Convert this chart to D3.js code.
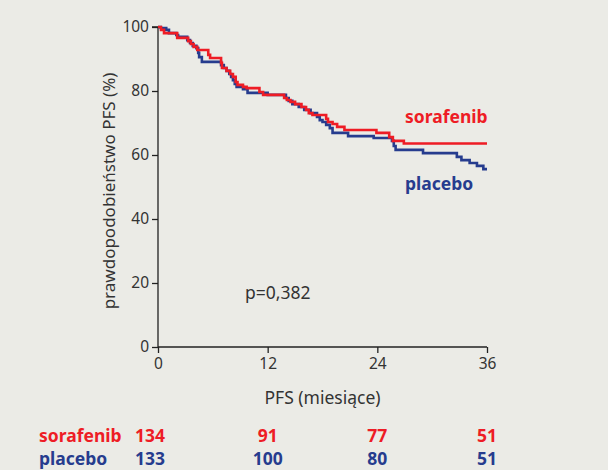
<!DOCTYPE html>
<html>
<head>
<meta charset="utf-8">
<script src="https://cdn.jsdelivr.net/npm/d3@7"></script>
<style>
  html, body { margin: 0; padding: 0; background: #ebebe6; }
  svg { display: block; font-family: "Noto Sans", "Open Sans", sans-serif; }
</style>
</head>
<body>
<svg id="chart" width="608" height="470"></svg>
<script>
// Kaplan-Meier PFS steps: [month, % progression-free]
const sorafenibSteps = [
  [0, 100], [0.33, 99.1], [0.66, 98.1], [2.1, 96.6], [3.3, 95.6], [3.6, 94.7],
  [3.9, 93.8], [4.3, 92.8], [5.5, 91.3], [5.7, 90.3], [6.9, 88.8], [7.0, 87.2],
  [7.5, 86.3], [7.9, 85.3], [8.2, 84.4], [8.5, 82.8], [8.7, 81.9], [9.3, 81.3],
  [9.7, 80.9], [11.1, 79.7], [11.5, 78.8], [13.8, 77.8], [14.1, 77.2], [14.5, 76.6],
  [15.0, 75.9], [15.7, 75.0], [16.2, 74.1], [16.5, 73.1], [16.9, 72.5], [18.4, 71.3],
  [18.6, 70.3], [19.1, 69.7], [19.6, 68.8], [20.4, 67.8], [23.9, 66.9], [25.3, 65.6],
  [25.7, 64.4], [26.9, 63.6], [36, 63.6]
];
const placeboSteps = [
  [0, 100], [0.3, 99.7], [0.9, 99.1], [1.2, 98.1], [2.0, 97.5], [2.2, 96.9],
  [3.2, 95.9], [3.5, 95.0], [3.8, 94.1], [4.2, 93.4], [4.4, 91.9], [4.5, 90.6],
  [4.8, 89.1], [6.9, 88.1], [7.2, 87.2], [7.5, 86.3], [7.8, 85.3], [8.0, 84.4],
  [8.2, 83.4], [8.4, 82.2], [8.6, 81.3], [9.3, 80.6], [9.8, 79.4], [12.0, 78.8],
  [14.0, 77.8], [14.3, 76.9], [14.7, 75.9], [15.4, 75.0], [16.0, 74.1], [16.7, 73.1],
  [17.4, 71.9], [17.7, 70.9], [18.0, 70.3], [18.4, 69.4], [18.8, 68.4], [19.1, 66.9],
  [20.8, 65.9], [23.6, 65.3], [25.6, 64.4], [25.8, 62.8], [26.0, 61.6], [29.0, 60.6],
  [32.7, 59.4], [33.2, 58.4], [34.1, 57.5], [34.9, 56.6], [35.6, 55.6], [36, 55.6]
];
const xTicks = [0, 12, 24, 36];
const yTicks = [0, 20, 40, 60, 80, 100];
const riskGroups = ["sorafenib", "placebo"];
const atRisk = {
  sorafenib: [134, 91, 77, 51],
  placebo: [133, 100, 80, 51]
};
const pValueLabel = "p=0,382";

const colors = { sorafenib: "#ee1c25", placebo: "#263c8e" };

const svg = d3.select("#chart");
const x = d3.scaleLinear().domain([0, 36]).range([158, 487]);
const y = d3.scaleLinear().domain([0, 100]).range([347, 27]);

// axes
const yAxis = svg.append("g")
  .attr("transform", `translate(${x(0)},0)`)
  .call(d3.axisLeft(y).tickValues(yTicks).tickSize(6).tickPadding(3));
const xAxis = svg.append("g")
  .attr("transform", `translate(0,${y(0)})`)
  .call(d3.axisBottom(x).tickValues(xTicks).tickSize(6).tickPadding(5));
[yAxis, xAxis].forEach(g => {
  g.select(".domain").attr("stroke", "#222").attr("stroke-width", 1.3);
  g.selectAll(".tick line").attr("stroke", "#222").attr("stroke-width", 1.3);
  g.selectAll(".tick text").attr("fill", "#333").style("font-size", "15.5px")
    .style("font-family", "'Noto Sans', sans-serif");
});
yAxis.select(".domain").attr("d", `M0,${y(0)}V${y(100)}M-6,${y(100)}H0`);
xAxis.select(".domain").attr("d", `M${x(0)},0H${x(36)}`);

// axis titles
svg.append("text")
  .attr("transform", `translate(115,${(y(0) + y(100)) / 2 + 4}) rotate(-90)`)
  .attr("text-anchor", "middle")
  .attr("fill", "#333").style("font-size", "17px")
  .text("prawdopodobieństwo PFS (%)");
svg.append("text")
  .attr("x", (x(0) + x(36)) / 2).attr("y", 404)
  .attr("text-anchor", "middle")
  .attr("fill", "#333").style("font-size", "17.5px")
  .text("PFS (miesiące)");

// curves
const line = d3.line()
  .x(d => x(d[0])).y(d => y(d[1]))
  .curve(d3.curveStepAfter);
svg.append("path").datum(placeboSteps)
  .attr("fill", "none").attr("stroke", colors.placebo).attr("stroke-width", 2.6)
  .attr("d", line);
svg.append("path").datum(sorafenibSteps)
  .attr("fill", "none").attr("stroke", colors.sorafenib).attr("stroke-width", 2.6)
  .attr("d", line);

// curve labels
svg.append("text").attr("x", 405).attr("y", 123)
  .attr("fill", colors.sorafenib).style("font-size", "17.5px").style("font-weight", "bold")
  .text("sorafenib");
svg.append("text").attr("x", 405).attr("y", 190)
  .attr("fill", colors.placebo).style("font-size", "17.5px").style("font-weight", "bold")
  .text("placebo");

// p-value
svg.append("text").attr("x", 245).attr("y", 299)
  .attr("fill", "#333").style("font-size", "17.5px")
  .text(pValueLabel);

// numbers at risk
riskGroups.forEach((g, i) => {
  const yy = 442 + i * 23;
  svg.append("text").attr("x", 39).attr("y", yy)
    .attr("fill", colors[g]).style("font-size", "17.5px").style("font-weight", "bold")
    .text(g);
  atRisk[g].forEach((v, j) => {
    svg.append("text")
      .attr("x", j === 0 ? 135 : x(xTicks[j]))
      .attr("y", yy)
      .attr("text-anchor", j === 0 ? "start" : "middle")
      .attr("fill", colors[g]).style("font-size", "17.5px").style("font-weight", "bold")
      .text(v);
  });
});
</script>
</body>
</html>
